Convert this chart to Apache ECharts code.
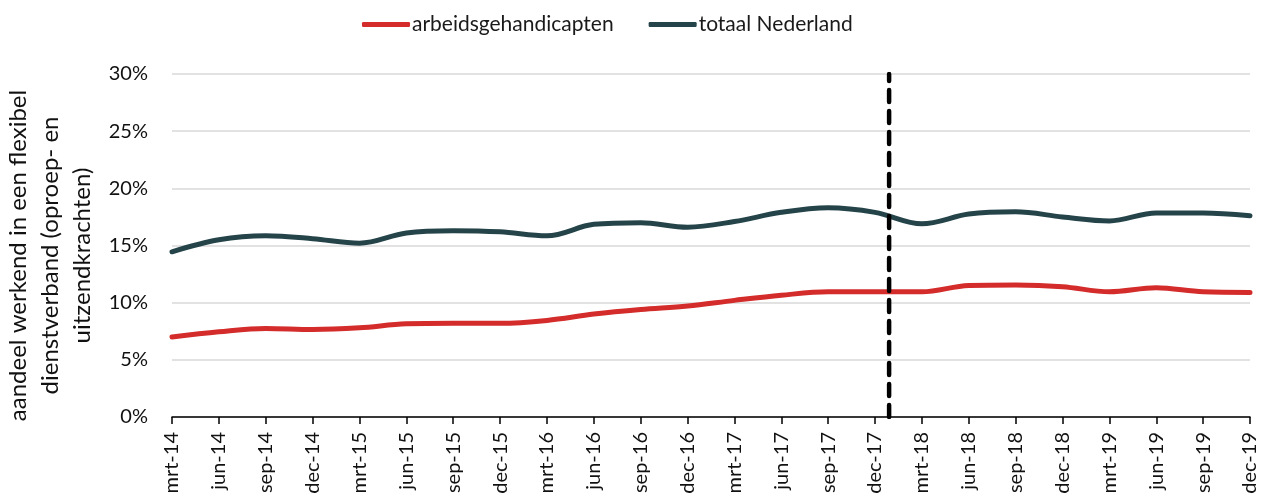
<!DOCTYPE html>
<html>
<head>
<meta charset="utf-8">
<script src="https://cdn.jsdelivr.net/npm/echarts@6/dist/echarts.min.js"></script>
<style>
html,body{margin:0;padding:0;background:#fff;}
#chart{width:1261px;height:499px;}
</style>
</head>
<body>
<div id="chart"></div>
<script>
const categories = ['mrt-14','jun-14','sep-14','dec-14','mrt-15','jun-15','sep-15','dec-15','mrt-16','jun-16','sep-16','dec-16','mrt-17','jun-17','sep-17','dec-17','mrt-18','jun-18','sep-18','dec-18','mrt-19','jun-19','sep-19','dec-19'];
const arbeidsgehandicapten = [7.0,7.45,7.75,7.65,7.8,8.15,8.2,8.2,8.45,9.0,9.4,9.7,10.2,10.65,10.95,10.95,10.95,11.5,11.55,11.4,10.95,11.3,10.95,10.9];
const totaalNederland = [14.45,15.5,15.85,15.6,15.2,16.1,16.3,16.2,15.85,16.85,17.0,16.6,17.1,17.9,18.3,17.9,16.9,17.75,17.95,17.5,17.15,17.85,17.85,17.6];
const yTicks = [0,5,10,15,20,25,30];
const dividerIndex = 15.3; // boundary just after dec-17
const seriesNames = ['arbeidsgehandicapten','totaal Nederland'];
const colors = ['#D42B2B','#25444A'];
const yAxisName = 'aandeel werkend in een flexibel\ndienstverband (oproep- en\nuitzendkrachten)';

const font = 'Lato, "Open Sans", sans-serif';
const chart = echarts.init(document.getElementById('chart'), null, {renderer:'canvas'});
chart.setOption({
  animation:false,
  textStyle:{fontFamily:font},
  legend:{
    data:seriesNames,
    top:9,
    left:357,
    icon:'roundRect',
    itemWidth:48,
    itemHeight:5,
    itemGap:35,
    textStyle:{fontSize:21,color:'#1a1a1a',fontFamily:font,padding:[0,0,0,-3]}
  },
  grid:{left:172,right:11,top:74,bottom:82,containLabel:false,outerBoundsMode:'none'},
  xAxis:[{
    type:'category',
    data:categories,
    boundaryGap:false,
    axisLine:{lineStyle:{color:'#000',width:1.5}},
    axisTick:{alignWithLabel:true,length:7,lineStyle:{color:'#000',width:1.5}},
    axisLabel:{rotate:90,fontSize:20,color:'#111',margin:15,fontFamily:font,interval:0},
    splitLine:{show:false}
  },{
    type:'value',
    min:0,max:categories.length-1,
    show:false
  }],
  yAxis:{
    type:'value',
    min:yTicks[0],max:yTicks[yTicks.length-1],interval:5,
    axisLine:{show:false},
    axisTick:{show:false},
    axisLabel:{formatter:'{value}%',fontSize:20,color:'#111',margin:24,fontFamily:font},
    splitLine:{lineStyle:{color:'#d9d9d9',width:1.5}},
    name:yAxisName,
    nameLocation:'middle',
    nameRotate:90,
    nameGap:70,
    nameTextStyle:{fontSize:24,color:'#111',lineHeight:32,fontFamily:font,align:'center',padding:[0,20,0,0]}
  },
  series:[
    {name:seriesNames[0],type:'line',data:arbeidsgehandicapten,smooth:0.35,showSymbol:false,
     lineStyle:{color:colors[0],width:5,cap:'round'},itemStyle:{color:colors[0]},z:3},
    {name:seriesNames[1],type:'line',data:totaalNederland,smooth:0.35,showSymbol:false,
     lineStyle:{color:colors[1],width:5,cap:'round'},itemStyle:{color:colors[1]},z:3},
    {name:'divider',type:'line',xAxisIndex:1,
     data:[[dividerIndex,yTicks[0]],[dividerIndex,yTicks[yTicks.length-1]]],
     showSymbol:false,silent:true,
     lineStyle:{color:'#000',width:4.5,type:[12,9],cap:'round'},z:4}
  ]
});
</script>
</body>
</html>
